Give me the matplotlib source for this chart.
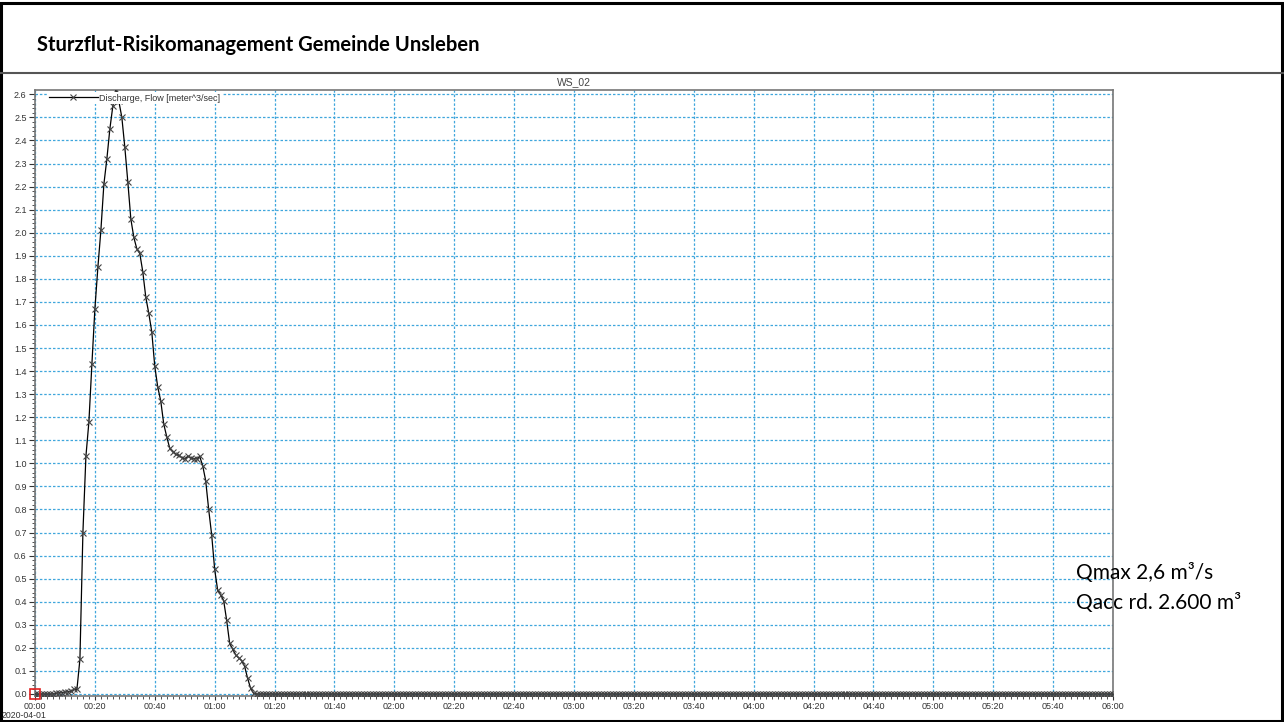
import numpy as np
import matplotlib
matplotlib.use("Agg")
import matplotlib.pyplot as plt
from matplotlib.ticker import MultipleLocator, FuncFormatter
from matplotlib.patches import Rectangle
from matplotlib.lines import Line2D

# discharge at WS_02, one value per minute from 2020-04-01 00:00 [m^3/s]
flow_event = [
    0.0, 0.0, 0.0, 0.0, 0.0, 0.0, 0.0, 0.003, 0.005, 0.006,
    0.008, 0.01, 0.012, 0.02, 0.02, 0.15, 0.70, 1.03, 1.18, 1.43,
    1.67, 1.85, 2.01, 2.21, 2.32, 2.45, 2.55, 2.62, 2.57, 2.50,
    2.37, 2.22, 2.06, 1.98, 1.93, 1.91, 1.83, 1.72, 1.65, 1.57,
    1.42, 1.33, 1.27, 1.17, 1.115, 1.065, 1.05, 1.04, 1.035, 1.025,
    1.02, 1.03, 1.025, 1.02, 1.02, 1.03, 0.99, 0.925, 0.80, 0.69,
    0.54, 0.45, 0.43, 0.405, 0.32, 0.22, 0.195, 0.17, 0.157, 0.145,
    0.12, 0.068, 0.025, 0.003,
]
flow_tail = [0.0] * (361 - len(flow_event))   # dry until 06:00
flow = flow_event + flow_tail
minutes = np.arange(len(flow))

title = "Sturzflut-Risikomanagement Gemeinde Unsleben"
series_name = "Discharge, Flow [meter^3/sec]"
summary = ["Qmax 2,6 m³/s", "Qacc rd. 2.600 m³"]

W, H = 1284, 722
fig = plt.figure(figsize=(W / 100, H / 100), dpi=100)
plt.rcParams["font.family"] = ["Liberation Sans", "DejaVu Sans"]

ax = fig.add_axes([35 / W, 1 - 696 / H, (1113 - 35) / W, (696 - 90) / H])

line, = ax.plot(minutes, flow, color="black", lw=0.9, marker="x", ms=5,
                mec="#444444", mew=0.8, label=series_name, zorder=3)
ax.plot(minutes[0], flow[0], "s", mfc="none", mec="#e02020", ms=7, mew=1.2,
        zorder=5, clip_on=False)

ax.set_xlim(0, 360)
ax.set_ylim(-0.0087, 2.6187)
ax.xaxis.set_major_locator(MultipleLocator(20))
ax.xaxis.set_minor_locator(MultipleLocator(2))
ax.xaxis.set_major_formatter(FuncFormatter(lambda v, _: f"{int(v) // 60:02d}:{int(v) % 60:02d}"))
ax.yaxis.set_major_locator(MultipleLocator(0.1))
ax.yaxis.set_minor_locator(MultipleLocator(0.02))
ax.yaxis.set_major_formatter(FuncFormatter(lambda v, _: f"{v:.1f}"))

ax.tick_params(which="major", labelsize=6.5, length=4, width=0.8,
               color="#333333", labelcolor="#333333", pad=2)
ax.tick_params(axis="x", which="major", length=3, pad=1)
ax.tick_params(which="minor", length=2, width=0.6, color="#333333")
ax.grid(which="major", color="#3fa6dc", linestyle=(0, (2, 1.5)), lw=0.9)
for s in ax.spines.values():
    s.set_color("#777777")
    s.set_linewidth(1.2)

leg = ax.legend(handles=[line], loc="upper left", bbox_to_anchor=(0.011, 0.997),
                fontsize=6.5, handlelength=5.5, handletextpad=0.1,
                frameon=True, fancybox=False, framealpha=1, facecolor="white",
                edgecolor="none", borderpad=0.2, borderaxespad=0)
for t in leg.get_texts():
    t.set_color("#333333")

# header and annotations
fig.text(574 / W, 1 - 82 / H, "WS_02", ha="center", va="center", fontsize=7.5, color="#444444")
fig.text(2 / W, 1 - 716 / H, "2020-04-01", va="center", fontsize=6.3, color="#333333")
fig.text(37 / W, 1 - 45 / H, title, va="center", fontsize=14.5, fontweight="bold",
         family="Lato", color="black")
fig.text(1076 / W, 1 - 573 / H, summary[0], va="center", fontsize=15, family="Lato")
fig.text(1076 / W, 1 - 603 / H, summary[1], va="center", fontsize=15, family="Lato")

fig.add_artist(Line2D([0, 1], [1 - 73 / H] * 2, transform=fig.transFigure, color="#555555", lw=1.5))
fig.add_artist(Rectangle((1.5 / W, 1.5 / H), 1 - 4 / W, 1 - 4 / H, transform=fig.transFigure,
                         fill=False, lw=2.2, ec="black"))

fig.savefig("out.png", dpi=100)
